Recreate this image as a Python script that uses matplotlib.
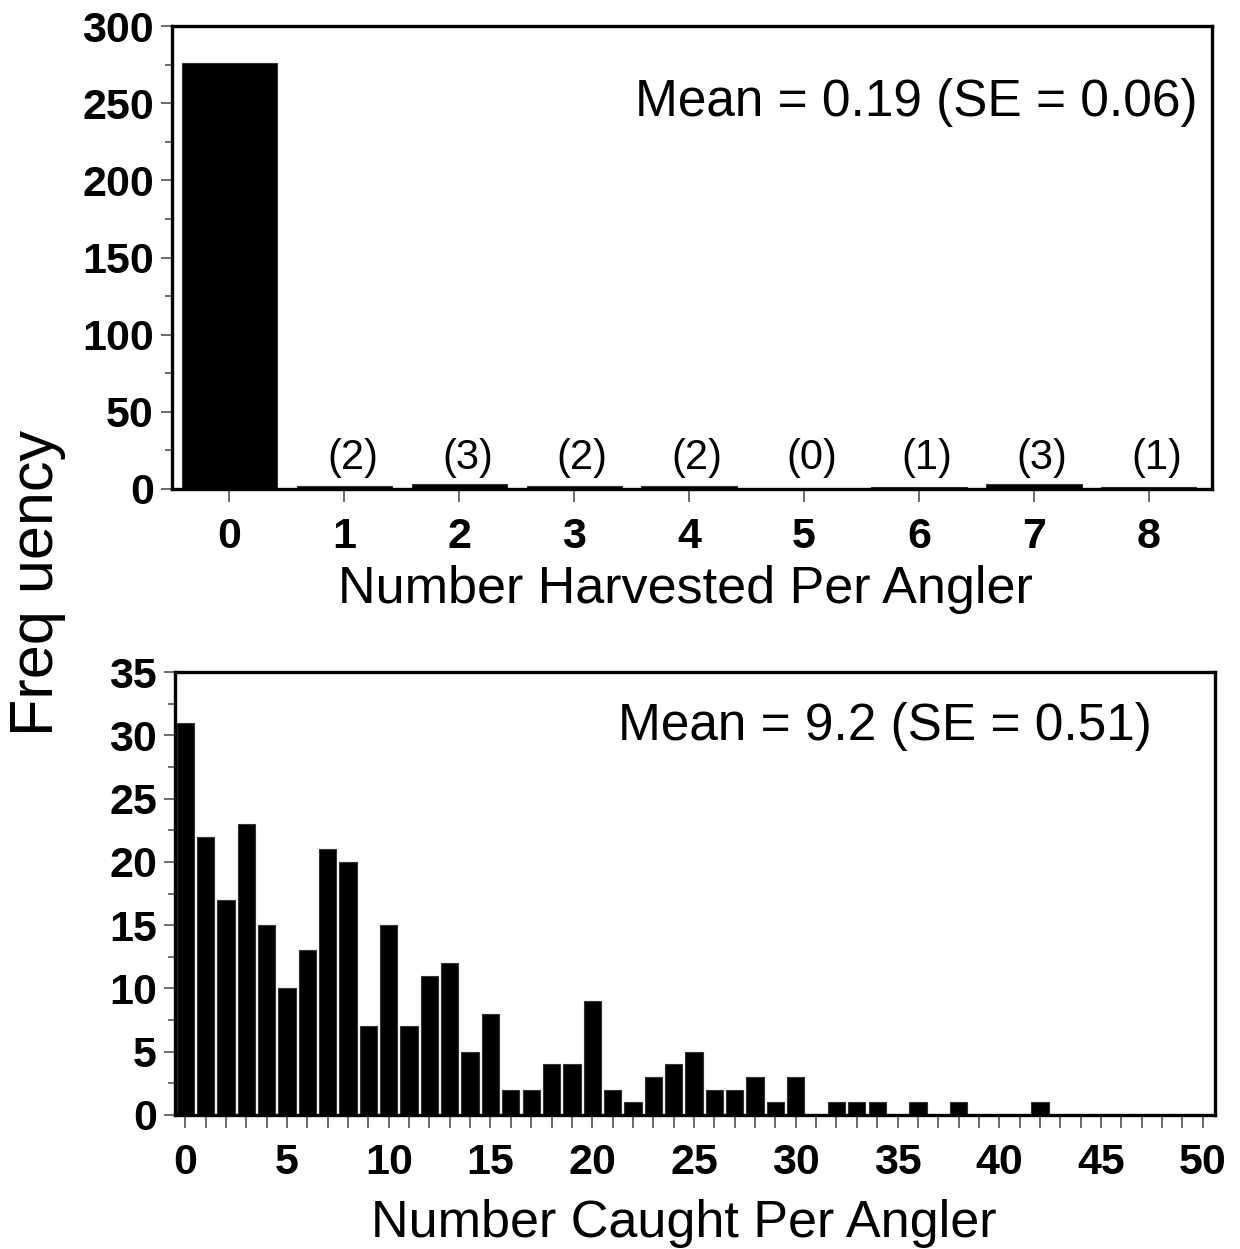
"""Angler harvest and catch frequency histograms."""

import matplotlib
matplotlib.use("Agg")
import matplotlib.pyplot as plt
from matplotlib.ticker import MultipleLocator

plt.rcParams['font.family'] = ['Liberation Sans', 'DejaVu Sans']

# harvested per angler (top panel)
harvest_n = [0, 1, 2, 3, 4, 5, 6, 7, 8]
harvest_freq = [276, 2, 3, 2, 2, 0, 1, 3, 1]
harvest_labels = ['(2)', '(3)', '(2)', '(2)', '(0)', '(1)', '(3)', '(1)']
harvest_note = 'Mean = 0.19 (SE = 0.06)'

# caught per angler (bottom panel)
caught_n = list(range(51))
caught_freq = [31, 22, 17, 23, 15, 10, 13, 21, 20, 7,
               15, 7, 11, 12, 5, 8, 2, 2, 4, 4,
               9, 2, 1, 3, 4, 5, 2, 2, 3, 1,
               3, 0, 1, 1, 1, 0, 1, 0, 1, 0,
               0, 0, 1, 0, 0, 0, 0, 0, 0, 0, 0]
caught_note = 'Mean = 9.2 (SE = 0.51)'

W, H = 1240, 1249
fig = plt.figure(figsize=(W / 100, H / 100), dpi=100)


def px_axes(left, top, right, bottom):
    return fig.add_axes([left / W, 1 - bottom / H, (right - left) / W, (bottom - top) / H])


def style(ax, size):
    for s in ax.spines.values():
        s.set_linewidth(2.4)
    ax.tick_params(which='major', direction='out', length=8, width=1.1,
                   color='#444444', labelsize=size, pad=5)
    ax.tick_params(which='minor', direction='out', length=5, width=1.1, color='#444444')
    ax.tick_params(axis='x', which='both', length=9, pad=11)
    for lab in ax.get_xticklabels() + ax.get_yticklabels():
        lab.set_fontweight('bold')


# top panel
ax1 = px_axes(172, 26, 1212, 489)
ax1.bar(harvest_n, harvest_freq, width=0.83, color='black', edgecolor='#333333', linewidth=0.8)
for x, lab in zip(harvest_n[1:], harvest_labels):
    ax1.text(x + 0.07, 20, lab, ha='center', va='center', fontsize=30)
ax1.set_xlim(-0.5, 8.55)
ax1.set_ylim(0, 300)
ax1.set_xticks(harvest_n)
ax1.yaxis.set_major_locator(MultipleLocator(50))
ax1.yaxis.set_minor_locator(MultipleLocator(25))
style(ax1, 31)
ax1.text(0.986, 0.834, harvest_note, transform=ax1.transAxes, ha='right', va='center',
         fontsize=37)
ax1.set_xlabel('Number Harvested Per Angler', fontsize=37.5)
ax1.xaxis.set_label_coords(0.494, -0.165)

# bottom panel
ax2 = px_axes(175, 672, 1215, 1115)
ax2.bar(caught_n, caught_freq, width=0.85, color='black', edgecolor='#333333', linewidth=0.8)
ax2.set_xlim(-0.5, 50.6)
ax2.set_ylim(0, 35)
ax2.xaxis.set_major_locator(MultipleLocator(5))
ax2.xaxis.set_minor_locator(MultipleLocator(1))
ax2.yaxis.set_major_locator(MultipleLocator(5))
ax2.yaxis.set_minor_locator(MultipleLocator(2.5))
style(ax2, 31)
ax2.tick_params(axis='x', which='minor', length=9)
ax2.text(0.939, 0.876, caught_note, transform=ax2.transAxes, ha='right', va='center',
         fontsize=37)
ax2.set_xlabel('Number Caught Per Angler', fontsize=37.5)
ax2.xaxis.set_label_coords(0.489, -0.19)

fig.text(38 / W, 1 - 583 / H, 'Freq uency', rotation=90, ha='center', va='center',
         fontsize=44)

fig.savefig('out.png', dpi=100)
